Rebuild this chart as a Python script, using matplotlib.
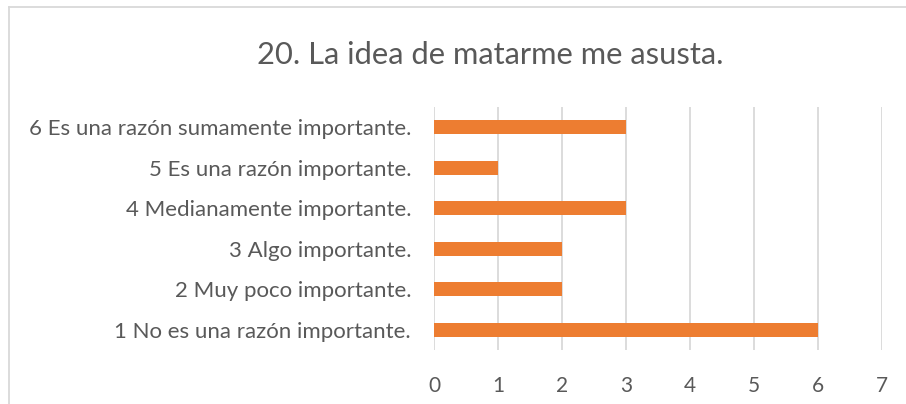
import matplotlib.pyplot as plt
from matplotlib.lines import Line2D

categorias = ["1 No es una razón importante.",
              "2 Muy poco importante.",
              "3 Algo importante.",
              "4 Medianamente importante.",
              "5 Es una razón importante.",
              "6 Es una razón sumamente importante."]
valores = [6, 2, 2, 3, 1, 3]
ticks_x = [0, 1, 2, 3, 4, 5, 6, 7]
titulo = "20. La idea de matarme me asusta."

plt.rcParams['font.family'] = ['Lato', 'DejaVu Sans']

W, H = 906, 404
fig = plt.figure(figsize=(W / 100, H / 100), dpi=100)

# plot area in pixels: x 434..882, y 107..350
ax = fig.add_axes([434 / W, 1 - 350 / H, (882 - 434) / W, (350 - 107) / H])

ax.barh(range(len(categorias)), valores, height=0.35, color='#ED7D31', zorder=3)
ax.set_xlim(0, 7)
ax.set_ylim(-0.5, len(categorias) - 0.5)
ax.set_xticks(ticks_x)
ax.set_yticks(range(len(categorias)))
ax.set_yticklabels(categorias)
ax.grid(axis='x', color='#D9D9D9', linewidth=1.3, zorder=0)
for s in ax.spines.values():
    s.set_visible(False)
ax.tick_params(axis='both', length=0, labelcolor='#595959')
ax.tick_params(axis='y', pad=16.5, labelsize=16)
ax.tick_params(axis='x', pad=19, labelsize=15)

fig.text(490 / W, 1 - 55 / H, titulo, ha='center', va='center', fontsize=22.2, color='#595959')

# chart frame (top and left edges visible)
fig.add_artist(Line2D([9 / W, 1], [1 - 7 / H, 1 - 7 / H], color='#D9D9D9', linewidth=1.3))
fig.add_artist(Line2D([9 / W, 9 / W], [0, 1 - 7 / H], color='#D9D9D9', linewidth=1.3))

fig.savefig('out.png', dpi=100)
